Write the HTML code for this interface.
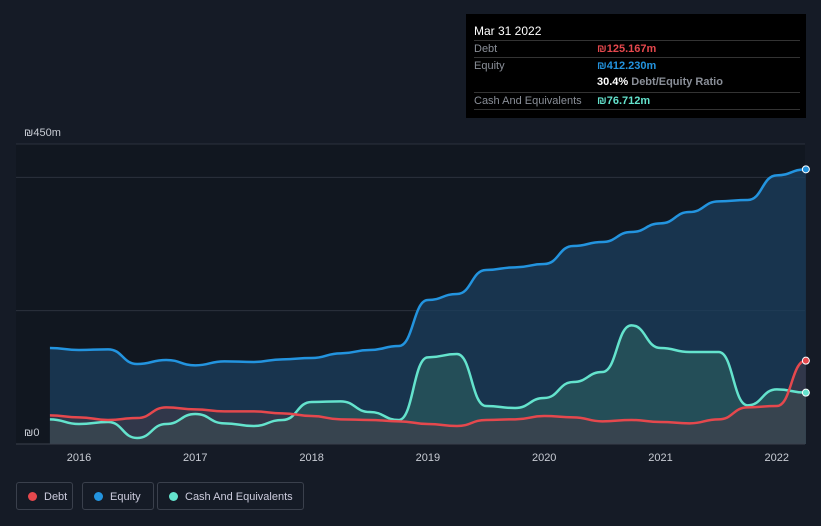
<!DOCTYPE html>
<html><head><meta charset="utf-8"><style>
body{margin:0;background:#151b26;font-family:"Liberation Sans",sans-serif;}
#wrap{position:relative;width:821px;height:526px;overflow:hidden;background:#151b26}
.tt{position:absolute;left:466px;top:14px;width:340px;height:104px;background:#000;color:#fff;font-size:11px}
.tt .r{position:absolute;left:8px;right:6px;border-top:1px solid #333;height:17px;line-height:17px}
.lab{color:#8a8f98;position:absolute;left:0}
.val{position:absolute;left:123px;font-weight:bold}
.leg{position:absolute;top:482px;height:28px;border:1px solid #3a404c;border-radius:3px;color:#ccd;font-size:11px;line-height:28px;box-sizing:border-box;padding-left:27px}
.leg i{position:absolute;left:11px;top:9px;width:9px;height:9px;border-radius:50%}
</style></head><body>
<div id="wrap">
<svg id="svg" width="821" height="526" style="position:absolute;left:0;top:0"></svg>
<div class="tt">
 <div style="position:absolute;left:8px;top:10px;font-size:12px">Mar 31 2022</div>
 <div class="r" style="top:26px"><span class="lab">Debt</span><span class="val" style="color:#e5484d">₪125.167m</span></div>
 <div class="r" style="top:43px"><span class="lab">Equity</span><span class="val" style="color:#2394df">₪412.230m</span></div>
 <div class="r" style="top:60px;border-top:none"><span class="val" style="color:#fff">30.4% <span style="color:#8a8f98">Debt/Equity Ratio</span></span></div>
 <div class="r" style="top:78px"><span class="lab">Cash And Equivalents</span><span class="val" style="color:#64e3cd">₪76.712m</span></div>
 <div class="r" style="top:95px;height:0"></div>
</div>
<div class="leg" style="left:16px;width:57px"><i style="background:#e5484d"></i>Debt</div>
<div class="leg" style="left:82px;width:72px"><i style="background:#2394df"></i>Equity</div>
<div class="leg" style="left:157px;width:147px"><i style="background:#64e3cd"></i>Cash And Equivalents</div>
</div>
<script>
const times=[2015.75,2016,2016.25,2016.5,2016.75,2017,2017.25,2017.5,2017.75,2018,2018.25,2018.5,2018.75,2019,2019.25,2019.5,2019.75,2020,2020.25,2020.5,2020.75,2021,2021.25,2021.5,2021.75,2022,2022.25];
const equity=[144,141,142,120,126,118,124,123,127,129,136,141,147,216,225,261,265,270,297,303,318,331,348,364,366,403,412];
const cash=[37,30,33,9,30,45,31,27,36,63,64,48,36,130,135,57,54,69,93,108,178,144,138,138,58,82,77];
const debt=[43,40,36,39,55,52,49,49,46,42,37,36,34,30,27,36,37,42,40,34,36,33,31,37,55,57,125];
const yTicks=[0,450];
const xTicks=[2016,2017,2018,2019,2020,2021,2022];
const X=t=>79+(t-2016)*116.3, Y=v=>444-v*300/450;
const svg=document.getElementById('svg'),NS='http://www.w3.org/2000/svg';
function mk(tag,a,name){const e=document.createElementNS(NS,tag);for(const k in a)e.setAttribute(k,a[k]);


svg.appendChild(e);return e;}
mk('rect',{x:16,y:144,width:789,height:300,fill:'#111720'},'plot-bg');
[200,400,450].forEach(v=>mk('line',{x1:16,x2:805,y1:Y(v),y2:Y(v),stroke:'#2c323d'},'gridline'));
function path(vals){let d='';times.forEach((t,i)=>{const x=X(t),y=Y(vals[i]);if(!i)d='M'+x+','+y;else{const px=X(times[i-1]),py=Y(vals[i-1]),m=(px+x)/2;d+=` C${m},${py} ${m},${y} ${x},${y}`;}});return d;}
function area(vals){return path(vals)+` L${X(times[times.length-1])},444 L${X(times[0])},444 Z`;}
mk('path',{d:area(equity),fill:'#1b3f5e',opacity:0.75},'equity-area');
mk('path',{d:area(cash),fill:'#2a5a5c',opacity:0.7},'cash-area');
mk('path',{d:area(debt),fill:'#4a3a45',opacity:0.5},'debt-area');
mk('path',{d:path(equity),fill:'none',stroke:'#2394df','stroke-width':2.5},'equity-line');
mk('path',{d:path(cash),fill:'none',stroke:'#64e3cd','stroke-width':2.5},'cash-line');
mk('path',{d:path(debt),fill:'none',stroke:'#e5484d','stroke-width':2.5},'debt-line');
const L=times.length-1;
[[equity,'#2394df'],[debt,'#e5484d'],[cash,'#64e3cd']].forEach(([s,c])=>mk('circle',{cx:X(times[L]),cy:Y(s[L]),r:3.5,fill:c,stroke:'#fff','stroke-width':1},'end-marker'));
mk('line',{x1:16,x2:805,y1:444,y2:444,stroke:'#3a404c'},'x-axis');
xTicks.forEach(t=>{const e=mk('text',{x:X(t),y:461,fill:'#c8ccd4','font-size':11,'text-anchor':'middle'},'x-tick-label');e.textContent=t;});
yTicks.forEach(v=>{const e=mk('text',{x:24,y:Y(v)-8,fill:'#c8ccd4','font-size':11},'y-tick-label');e.textContent=v?'₪'+v+'m':'₪0';if(!v)e.setAttribute('y',436);});
</script>
</body></html>
